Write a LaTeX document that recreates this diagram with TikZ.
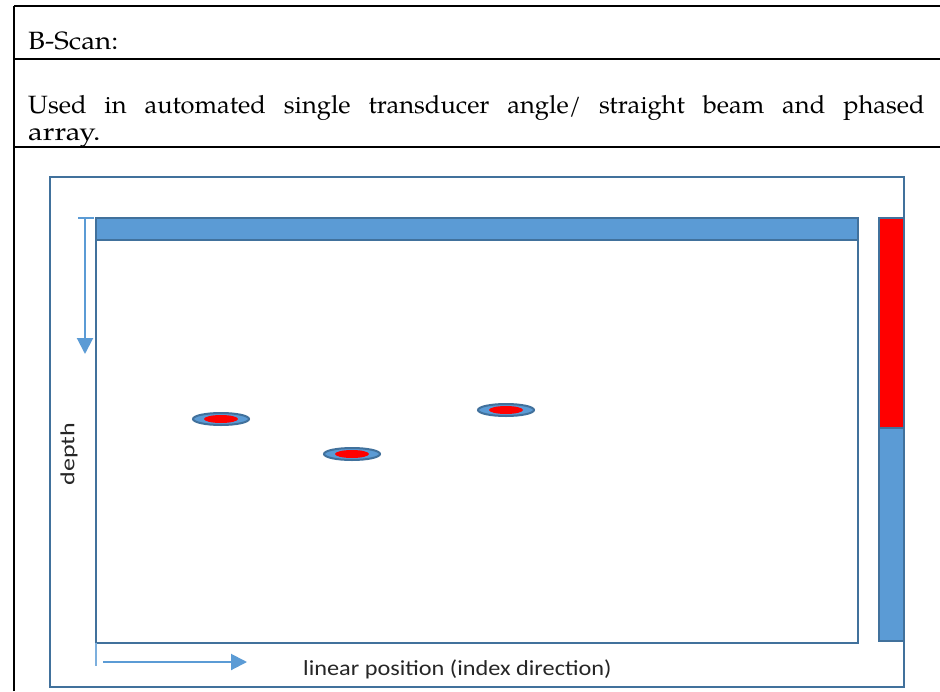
\documentclass[tikz,border=0pt]{standalone}
\usepackage{fontspec}
\usetikzlibrary{arrows.meta}
\newfontfamily\labelfont{Carlito}
\newfontfamily\palfont{texgyrepagella}[Extension=.otf, UprightFont=*-regular]
\definecolor{outl}{HTML}{41719C}
\definecolor{fillb}{HTML}{5B9BD5}
\definecolor{defred}{HTML}{FF0000}
\tikzset{
  tabline/.style={draw=black, line width=2pt},
  bluebox/.style={draw=outl, line width=2pt},
  bluebar/.style={draw=outl, fill=fillb, line width=2pt},
  redbar/.style={draw=outl, fill=defred, line width=2pt},
  axisarrow/.style={draw=fillb, line width=2pt, -{Triangle[length=16pt,width=16pt]}},
  axistick/.style={draw=fillb, line width=2pt},
  tabtext/.style={anchor=base west, inner sep=0pt, font=\palfont\fontsize{25}{28}\selectfont},
  axislabel/.style={inner sep=0pt, font=\labelfont\fontsize{21.5}{24}\selectfont, text=black!85},
  defouter/.style={draw=outl, fill=fillb, line width=2pt},
  definner/.style={fill=defred, draw=none}
}
\begin{document}
\begin{tikzpicture}[x=1pt,y=-1pt]
\useasboundingbox (0,0) rectangle (940,691);
\fill[white] (0,0) rectangle (940,691);
% table
\draw[tabline] (14,691) -- (14,6);
\draw[tabline] (14,6) -- (940,6);
\draw[tabline] (14,59) -- (940,59);
\draw[tabline] (14,147) -- (940,147);
\node[tabtext] (title) at (28,49) {\scalebox{1.11}[1]{B-Scan:}};
\node[tabtext] (desc1) at (28,113) {\scalebox{1.02}[1]{\makebox[879pt][s]{Used in automated single transducer angle/ straight beam and phased}}};
\node[tabtext] (desc2) at (28,140) {\scalebox{1.18}[1]{array.}};
% outer frame
\draw[bluebox] (50,177) rectangle (904,687);
% plot area
\draw[bluebox] (96,218) rectangle (858,643);
\draw[bluebar] (96,218) rectangle (858,240);
% right colour bar
\draw[bluebar] (879,218) rectangle (904,641);
\draw[redbar] (879,218) rectangle (904,428);
% defects
\foreach \n/\cx/\cy in {d1/221/419, d2/352/454, d3/506/410}{
  \draw[defouter] (\cx,\cy) ellipse [x radius=28pt, y radius=6pt];
  \fill[definner] (\cx,\cy) ellipse [x radius=17pt, y radius=4pt];
}
% depth axis
\coordinate (dtop) at (85,218);
\coordinate (dtip) at (85,354);
\coordinate (dtl) at (78,218);
\coordinate (dtr) at (94,218);
\draw[axistick] (dtl) -- (dtr);
\draw[axisarrow] (dtop) -- (dtip);
\node[axislabel, font=\labelfont\fontsize{20}{24}\selectfont, rotate=90] (depth) at (69,454) {\scalebox{1.3}[1]{depth}};
% linear axis
\coordinate (lt1) at (96,643);
\coordinate (lt2) at (96,666);
\draw[axistick, draw=fillb!80] (lt1) -- (lt2);
\coordinate (lstart) at (103,662);
\coordinate (ltip) at (247,662);
\draw[axisarrow] (lstart) -- (ltip);
\node[axislabel, anchor=base west] (lin) at (303,675) {\scalebox{1.13}[1]{linear position (index direction)}};
\end{tikzpicture}
\end{document}
